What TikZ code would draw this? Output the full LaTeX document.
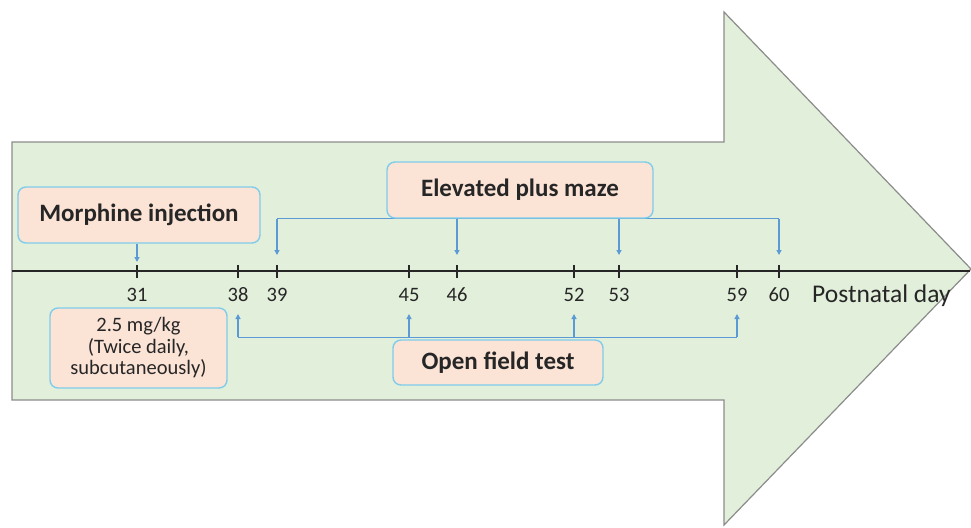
\documentclass[tikz,border=0pt]{standalone}
\usepackage{fontspec}
\setmainfont{Carlito}
\usetikzlibrary{arrows.meta,backgrounds}
\definecolor{arrowfill}{HTML}{E2EFDA}
\definecolor{arrowline}{HTML}{8C8C8C}
\definecolor{boxfill}{HTML}{FBE3D6}
\definecolor{boxline}{HTML}{7FCCEB}
\definecolor{linkblue}{HTML}{5B9BD5}
\definecolor{ink}{HTML}{262626}
\pgfdeclarelayer{back}
\pgfsetlayers{back,background,main}

\begin{document}
\begin{tikzpicture}[x=1pt,y=-1pt,
  event/.style={draw=boxline, line width=1.4pt, fill=boxfill, rounded corners=8pt,
    inner sep=0pt, text=ink, font=\fontsize{25}{28}\selectfont\bfseries},
  daylabel/.style={inner sep=0pt, text=ink, font=\fontsize{20.5}{23}\selectfont},
  tickmark/.style={ink, line width=1.4pt},
  link/.style={linkblue, line width=1.5pt},
  linkarrow/.style={link, -{Triangle[length=5pt,width=5pt]}}]
\useasboundingbox (0,0) rectangle (971,527);

% big timeline arrow
\begin{pgfonlayer}{back}
  \fill[white] (0,0) rectangle (971,527);
  \draw[arrowline, fill=arrowfill, line width=1.2pt]
    (12,142) -- (724,142) -- (724,12) -- (971,269) -- (724,525) -- (724,400) -- (12,400) -- cycle;
\end{pgfonlayer}

% axis
\coordinate (axisstart) at (12,271);
\coordinate (axisend) at (970,271);
\draw[ink, line width=2pt] (axisstart) -- (axisend);

% ticks and day numbers
\foreach \d/\x in {31/137,38/238,39/277,45/409,46/457,52/574,53/619,59/737,60/779} {
  \coordinate (t\d) at (\x,271);
  \draw[tickmark] (\x,265) -- (\x,278);
  \node[daylabel] (l\d) at (\x,295) {\d};
}
\node[daylabel, font=\fontsize{25.5}{28}\selectfont, anchor=west] (pnd) at (812,296) {Postnatal day};

% event boxes
\node[event, minimum width=242pt, minimum height=56pt] (morph) at (139,215) {Morphine injection};
\node[event, minimum width=177pt, minimum height=80pt, align=center,
  font=\fontsize{20.5}{21.5}\selectfont] (dose) at (138.5,348)
  {2.5 mg/kg\\(Twice daily,\\subcutaneously)};
\node[event, minimum width=266pt, minimum height=56pt] (epm) at (520,190) {Elevated plus maze};
\node[event, minimum width=210pt, minimum height=45pt] (oft) at (498,362.5) {Open field test};

% connectors
\draw[linkarrow] (morph.south -| t31) -- ([yshift=9pt]t31);

\begin{scope}[on background layer]
  \draw[link] (epm.south -| t39) -- (epm.south -| t60);
  \draw[link] ([yshift=2pt]oft.north -| t38) -- ([yshift=2pt]oft.north -| t59);
\end{scope}
\foreach \d in {39,46,53,60}
  \draw[linkarrow] (epm.south -| t\d) -- ([yshift=16pt]t\d);
\foreach \d in {38,45,52,59}
  \draw[linkarrow] ([yshift=2pt]oft.north -| t\d) -- ([yshift=-43pt]t\d);
\end{tikzpicture}
\end{document}
